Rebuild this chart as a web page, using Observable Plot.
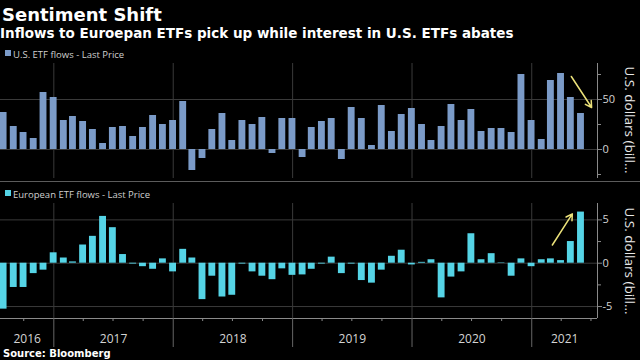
<!DOCTYPE html>
<html>
<head>
<meta charset="utf-8">
<script src="https://cdn.jsdelivr.net/npm/d3@7"></script>
<script src="https://cdn.jsdelivr.net/npm/@observablehq/plot@0.6"></script>
<style>
html, body { margin: 0; padding: 0; background: #000; width: 640px; height: 360px; overflow: hidden; }
body { position: relative; color: #fff; }
.abs { position: absolute; white-space: nowrap; line-height: 1; }
#title { left: 2px; top: 4px; font: bold 18px "DejaVu Sans", sans-serif; color: #fff; }
#subtitle { left: 0px; top: 24.5px; font: bold 13.5px "DejaVu Sans", sans-serif; color: #fff; }
.legend { font: 9.5px "Open Sans", sans-serif; color: #cfcfcf; }
.sw { position: absolute; width: 6px; height: 6px; }
#sep { position: absolute; left: 0; top: 181px; width: 640px; height: 0; border-top: 1px solid #5c5c5c; }
.ytitle { font: 13.5px "Open Sans", sans-serif; color: #e8e8e8; transform: translate(-50%, -50%) rotate(90deg); }
#source { left: 3px; top: 348px; font: bold 10px "DejaVu Sans", sans-serif; color: #fff; }
#top, #bottom { position: absolute; left: 0; }
#top { top: 60px; }
#bottom { top: 182px; }
</style>
</head>
<body>
<div id="title" class="abs">Sentiment Shift</div>
<div id="subtitle" class="abs">Inflows to Euroepan ETFs pick up while interest in U.S. ETFs abates</div>
<div class="sw" style="left:5px;top:50px;background:#7b9bc8"></div>
<div class="abs legend" style="left:13px;top:48px">U.S. ETF flows - Last Price</div>
<div id="top"></div>
<div id="sep"></div>
<div class="sw" style="left:5px;top:190px;background:#55d4e6"></div>
<div class="abs legend" style="left:13px;top:188px">European ETF flows - Last Price</div>
<div id="bottom"></div>
<div class="abs ytitle" style="left:630px;top:120px">U.S. dollars (bill...</div>
<div class="abs ytitle" style="left:630px;top:261px">U.S. dollars (bill...</div>
<div id="source" class="abs">Source: Bloomberg</div>
<script>
// Monthly flows (billions of U.S. dollars)
const months = [
  "2016-07","2016-08","2016-09","2016-10","2016-11","2016-12",
  "2017-01","2017-02","2017-03","2017-04","2017-05","2017-06","2017-07","2017-08","2017-09","2017-10","2017-11","2017-12",
  "2018-01","2018-02","2018-03","2018-04","2018-05","2018-06","2018-07","2018-08","2018-09","2018-10","2018-11","2018-12",
  "2019-01","2019-02","2019-03","2019-04","2019-05","2019-06","2019-07","2019-08","2019-09","2019-10","2019-11","2019-12",
  "2020-01","2020-02","2020-03","2020-04","2020-05","2020-06","2020-07","2020-08","2020-09","2020-10","2020-11","2020-12",
  "2021-01","2021-02","2021-03","2021-04","2021-05"
];
const usFlows = [
  37, 23, 17, 11, 57, 52,
  29, 33, 28, 20, 6, 22, 23, 13, 22, 34, 25, 29,
  48, -21, -9, 20, 36, 9, 29, 25, 32, -4, 31, 31,
  -8, 22, 28, 31, -10, 42, 31, 4, 44, 18, 35, 41,
  25, 9, 23, 45, 29, 40, 18, 21, 21, 17, 75, 29,
  10, 69, 76, 52, 36
];
const euFlows = [
  -5.3, -2.8, -2.8, -1.2, -0.8, 1.2,
  0.6, 0.15, 2.1, 3.1, 5.4, 4.1, 1.0, -0.1, -0.4, -0.7, 0.5, -1.0,
  1.6, 0.6, -4.2, -1.5, -3.9, -3.7, -0.1, -1.0, -1.5, -1.9, -0.65, -1.4,
  -1.35, -0.7, -0.1, 0.7, -1.2, -0.1, -2.0, -2.3, -0.8, 0.8, 1.5, -0.2,
  0.1, 0.4, -4.0, -1.6, -1.0, 3.4, 0.4, 1.1, 0.05, -1.5, 0.5, -0.4,
  0.4, 0.5, 0.3, 2.5, 5.9
];
const years = [2016, 2017, 2018, 2019, 2020, 2021];
const usTicks = [0, 50];
const usMinorTicks = [-25, 25, 75];
const euTicks = [-5, 0, 5];
const euMinorTicks = [-2.5, 2.5];
const usArrow = [{x1: "2021-05-02", y1: 73, x2: "2021-07-03", y2: 42}];
const euArrow = [{x1: "2021-03-05", y1: 2.1, x2: "2021-05-05", y2: 5.7}];

const parse = d3.utcParse("%Y-%m-%d");
const parseM = d3.utcParse("%Y-%m");
const xDomain = [parse("2016-07-22"), parse("2021-07-21")];

// bars are placed at month end
const usData = months.map((m, i) => ({date: d3.utcMonth.offset(parseM(m), 1), value: usFlows[i]}));
const euData = months.map((m, i) => ({date: d3.utcMonth.offset(parseM(m), 1), value: euFlows[i]}));
const x1 = d => d3.utcDay.offset(d.date, -11);
const x2 = d => d3.utcDay.offset(d.date, 10);

const yearStarts = years.slice(1).map(y => new Date(Date.UTC(y, 0, 1)));
const yearMids = years.map(y => {
  const s = Math.max(+new Date(Date.UTC(y, 0, 1)), +xDomain[0]);
  const e = Math.min(+new Date(Date.UTC(y + 1, 0, 1)), +xDomain[1]);
  return new Date((s + e) / 2);
});
const quarterStarts = d3.utcMonth.every(3).range(xDomain[0], xDomain[1]).filter(d => d.getUTCMonth() !== 0);

const mkArrow = a => a.map(d => ({x1: parse(d.x1), y1: d.y1, x2: parse(d.x2), y2: d.y2}));

const gridColor = "#3a3a3a";
const axisColor = "#8a8a8a";
const labelColor = "#d4d4d4";
const style = {background: "transparent", fontFamily: "Open Sans, sans-serif", fontSize: "11px", color: labelColor, overflow: "visible"};

const usDomain = [-29, 86];
const topChart = Plot.plot({
  width: 640, height: 121,
  marginTop: 3, marginBottom: 3, marginLeft: 0, marginRight: 43,
  style,
  x: {type: "utc", domain: xDomain, axis: null},
  y: {domain: usDomain, axis: null},
  marks: [
    Plot.gridX(yearStarts, {stroke: gridColor, strokeOpacity: 1}),
    Plot.gridY(usTicks, {stroke: gridColor, strokeOpacity: 1}),
    Plot.rectY(usData, {x1, x2, y: "value", fill: "#7b9bc8"}),
    Plot.ruleX([xDomain[1]], {stroke: axisColor}),
    Plot.axisY(usTicks, {anchor: "right", tickSize: 4, tickPadding: 1, stroke: axisColor, fill: labelColor, fontSize: 11, tickFormat: d => String(d), label: null}),
    Plot.axisY(usMinorTicks, {anchor: "right", tickSize: 3, stroke: axisColor, tickFormat: () => "", label: null}),
    Plot.arrow(mkArrow(usArrow), {x1: "x1", y1: "y1", x2: "x2", y2: "y2", stroke: "#ece27a", strokeWidth: 1.5, headLength: 7})
  ]
});
document.getElementById("top").append(topChart);

const euDomain = [-6.38, 6.89];
const bottomChart = Plot.plot({
  width: 640, height: 178,
  marginTop: 21, marginBottom: 42, marginLeft: 0, marginRight: 43,
  style,
  x: {type: "utc", domain: xDomain},
  y: {domain: euDomain, axis: null},
  marks: [
    Plot.gridX(yearStarts, {stroke: gridColor, strokeOpacity: 1}),
    Plot.gridY(euTicks, {stroke: gridColor, strokeOpacity: 1}),
    Plot.rectY(euData, {x1, x2, y: "value", fill: "#55d4e6"}),
    Plot.ruleX([xDomain[1]], {stroke: axisColor}),
    Plot.ruleY([euDomain[0]], {stroke: axisColor}),
    Plot.axisY(euTicks, {anchor: "right", tickSize: 4, tickPadding: 1, stroke: axisColor, fill: labelColor, fontSize: 11, tickFormat: d => String(d), label: null}),
    Plot.axisY(euMinorTicks, {anchor: "right", tickSize: 3, stroke: axisColor, tickFormat: () => "", label: null}),
    Plot.axisX(quarterStarts, {tickSize: 3, stroke: axisColor, tickFormat: () => "", label: null}),
    Plot.axisX(yearStarts, {tickSize: 29, stroke: "#666", tickFormat: () => "", label: null}),
    Plot.axisX(yearMids, {tickSize: 0, tickPadding: 16, fill: labelColor, fontSize: 12, tickFormat: d3.utcFormat("%Y"), label: null}),
    Plot.arrow(mkArrow(euArrow), {x1: "x1", y1: "y1", x2: "x2", y2: "y2", stroke: "#ece27a", strokeWidth: 1.5, headLength: 7})
  ]
});
document.getElementById("bottom").append(bottomChart);
</script>
</body>
</html>
